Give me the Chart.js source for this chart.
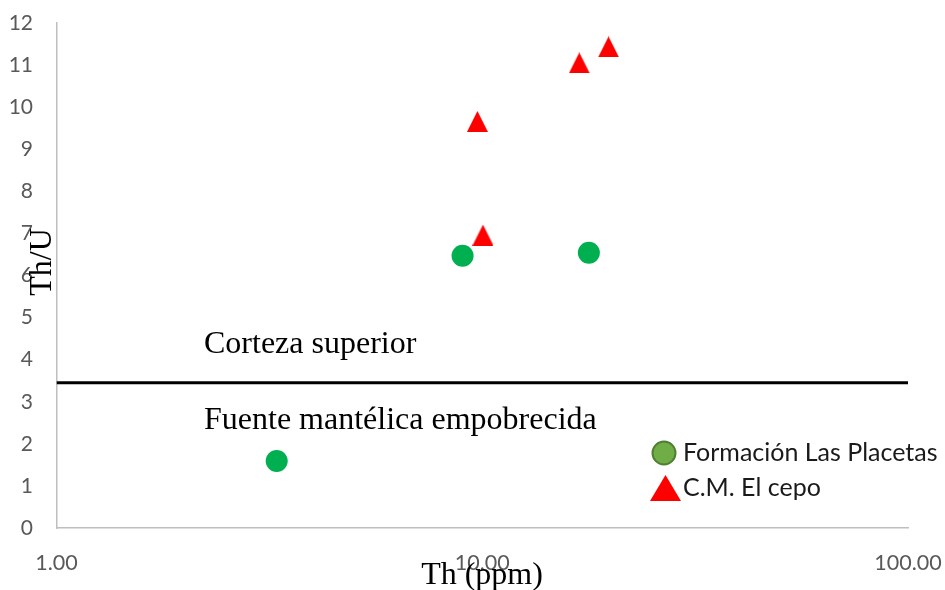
<!DOCTYPE html>
<html>
<head>
<meta charset="utf-8">
<script src="https://cdn.jsdelivr.net/npm/chart.js@4/dist/chart.umd.min.js"></script>
<style>
  html, body { margin: 0; padding: 0; background: #fff; }
  #wrap { width: 945px; height: 590px; }
</style>
</head>
<body>
<div id="wrap"><canvas id="grafico" width="945" height="590"></canvas></div>
<script>
// valores
const placetasTh = [3.29, 8.99, 17.8];
const placetasThU = [1.59, 6.47, 6.54];
const cepoTh = [19.8, 16.9, 9.74, 10.04];
const cepoThU = [11.43, 11.05, 9.66, 6.96];
const xTicks = [1, 10, 100];
const limiteThU = 3.45;
const etiquetas = ["Formación Las Placetas", "C.M. El cepo"];

const toPoints = (xs, ys) => xs.map((x, i) => ({ x: x, y: ys[i] }));

// triángulo tipo Excel (tan alto como ancho)
function triangulo(size, color) {
    const c = document.createElement("canvas");
    c.width = size;
    c.height = size;
    const g = c.getContext("2d");
    g.beginPath();
    g.moveTo(size / 2, 0);
    g.lineTo(size, size);
    g.lineTo(0, size);
    g.closePath();
    g.fillStyle = color;
    g.fill();
    return c;
}

// sin el relleno extra que chart.js añade por las etiquetas
function sinRelleno(scale) {
    scale.paddingTop = 0;
    scale.paddingBottom = 0;
    scale.paddingLeft = 0;
    scale.paddingRight = 0;
}

// textos, leyenda y títulos de ejes
const extras = {
    id: "extras",
    afterDraw(chart) {
        const ctx = chart.ctx;
        ctx.save();
        ctx.fillStyle = "#000";
        ctx.font = "32px 'Liberation Serif'";
        ctx.textBaseline = "alphabetic";
        ctx.textAlign = "left";
        ctx.fillText("Corteza superior", 204, 353);
        ctx.fillText("Fuente mantélica empobrecida", 204, 429);

        // títulos
        ctx.textAlign = "center";
        ctx.fillText("Th (ppm)", 482, 584);
        ctx.save();
        ctx.translate(51, 262);
        ctx.rotate(-Math.PI / 2);
        ctx.fillText("Th/U", 0, 0);
        ctx.restore();

        // leyenda
        ctx.beginPath();
        ctx.arc(664, 453, 11.5, 0, Math.PI * 2);
        ctx.fillStyle = "#70AD47";
        ctx.fill();
        ctx.lineWidth = 2;
        ctx.strokeStyle = "#507E32";
        ctx.stroke();

        ctx.beginPath();
        ctx.moveTo(665.5, 475);
        ctx.lineTo(681, 501);
        ctx.lineTo(650, 501);
        ctx.closePath();
        ctx.fillStyle = "#FF0000";
        ctx.fill();

        ctx.fillStyle = "#1a1a1a";
        ctx.font = "25px Lato";
        ctx.textAlign = "left";
        ctx.fillText(etiquetas[0], 683, 461);
        ctx.fillText(etiquetas[1], 683, 496);
        ctx.restore();
    }
};

new Chart(document.getElementById("grafico"), {
    type: "scatter",
    data: {
        datasets: [
            {
                label: etiquetas[0],
                data: toPoints(placetasTh, placetasThU),
                pointStyle: "circle",
                pointRadius: 11,
                pointHoverRadius: 11,
                pointBackgroundColor: "#00B050",
                pointBorderWidth: 0
            },
            {
                label: etiquetas[1],
                data: toPoints(cepoTh, cepoThU),
                pointStyle: triangulo(21, "#FF0000"),
                pointRadius: 11,
                pointBackgroundColor: "#FF0000",
                pointBorderWidth: 0
            },
            {
                type: "line",
                label: "limite",
                data: [{ x: xTicks[0], y: limiteThU }, { x: xTicks[xTicks.length - 1], y: limiteThU }],
                borderColor: "#000",
                borderWidth: 3,
                pointRadius: 0
            }
        ]
    },
    options: {
        responsive: false,
        animation: false,
        layout: { padding: { top: 23, right: 37, left: 0, bottom: 0 } },
        plugins: {
            legend: { display: false },
            tooltip: { enabled: false }
        },
        scales: {
            x: {
                type: "logarithmic",
                min: 1,
                max: 100,
                afterBuildTicks: (scale) => { scale.ticks = xTicks.map(v => ({ value: v })); },
                afterFit: (scale) => { scale.height = 62; sinRelleno(scale); },
                grid: { drawOnChartArea: false, drawTicks: false },
                border: { color: "#BFBFBF", width: 1.5 },
                ticks: {
                    padding: 22,
                    color: "#595959",
                    font: { family: "Lato", size: 21.5 },
                    maxRotation: 0,
                    autoSkip: false,
                    callback: (v) => Number(v).toFixed(2)
                }
            },
            y: {
                min: 0,
                max: 12,
                afterFit: (scale) => { scale.width = 56.5; sinRelleno(scale); },
                grid: { drawOnChartArea: false, drawTicks: false },
                border: { color: "#BFBFBF", width: 1.5 },
                ticks: {
                    stepSize: 1,
                    padding: 23.5,
                    color: "#595959",
                    font: { family: "Lato", size: 21 }
                }
            }
        }
    },
    plugins: [extras]
});
</script>
</body>
</html>
